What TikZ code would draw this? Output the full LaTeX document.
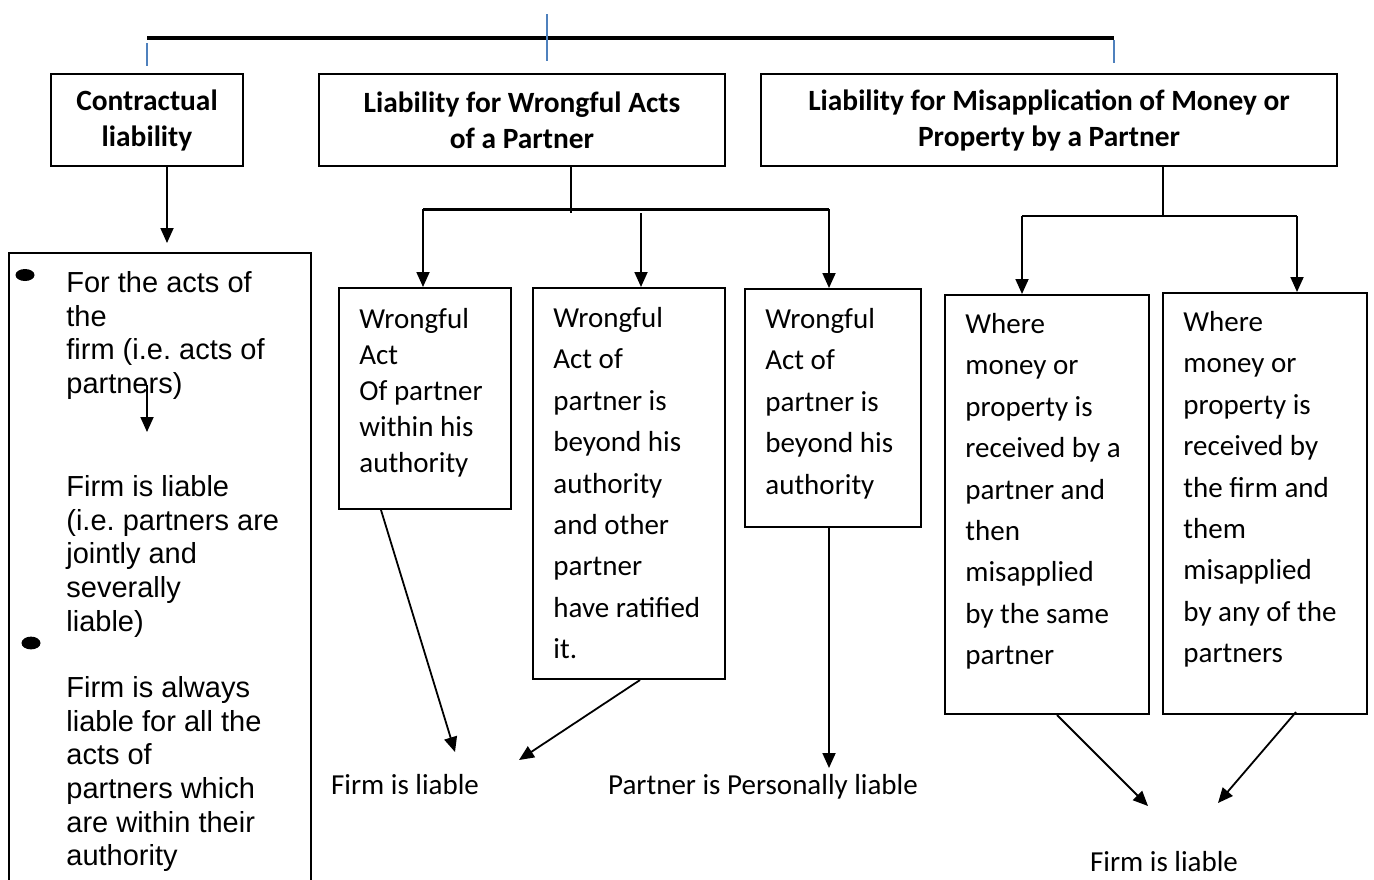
\documentclass[tikz,border=0pt]{standalone}
\usepackage{fontspec}
\setmainfont{Carlito}
\newfontfamily\arialfont{Liberation Sans}
\usetikzlibrary{arrows.meta,positioning}
\definecolor{tickblue}{RGB}{79,129,189}
\frenchspacing

\begin{document}
\begin{tikzpicture}[x=0.5pt,y=-0.5pt,
    hdr/.style={draw, line width=1pt, align=center, inner sep=0pt, minimum height=46pt,
        font=\fontsize{14.7}{18}\selectfont\bfseries},
    box/.style={draw, line width=1pt, inner sep=0pt},
    wtxt/.style={anchor=north west, align=left, inner sep=0pt, font=\fontsize{14.5}{20.7}\selectfont},
    ltxt/.style={anchor=north west, align=left, inner sep=0pt, font=\arialfont\fontsize{14.5}{16.85}\selectfont},
    lbl/.style={inner sep=0pt, anchor=base, font=\fontsize{14.5}{17}\selectfont},
    arr/.style={line width=0.9pt, -{Triangle[length=7.5pt,width=6.5pt]}},
    ln/.style={line width=0.9pt}
]
    \useasboundingbox (0,0) rectangle (1374,879);
    \clip (0,0) rectangle (1374,879);

    % top bar
    \draw[line width=2pt] (147,38) -- (1114,38);
    \draw[tickblue, line width=1.3pt] (147,43) -- (147,66) (547,14) -- (547,61) (1114,40) -- (1114,63);

    % headings
    \node[hdr, minimum width=96pt] (contr) at (147,120) {Contractual\\liability};
    \node[hdr, minimum width=203pt] (wrong) at (522,120) {Liability for Wrongful Acts\\of a Partner};
    \node[hdr, minimum width=288pt] (misap) at (1049,120) {Liability for Misapplication of Money or\\Property by a Partner};

    % contractual liability
    \node[box, minimum width=151pt, minimum height=323.5pt] (lbox) at (160,576.5) {};
    \fill (25,275) ellipse [x radius=4.75pt, y radius=3pt];
    \fill (31,643) ellipse [x radius=4.75pt, y radius=3.2pt];
    \node[ltxt, below right=9.5pt and 29pt of lbox.north west] (la) {For the acts of\\the\\firm (i.e. acts of\\partners)};
    \node[ltxt, below right=111.5pt and 29pt of lbox.north west] (lb) {Firm is liable\\(i.e. partners are\\jointly and\\severally\\liable)};
    \node[ltxt, below right=212pt and 29pt of lbox.north west] (lc) {Firm is always\\liable for all the\\acts of\\partners which\\are within their\\authority};
    \draw[arr] ([xshift=10pt]contr.south) -- ([xshift=10pt,yshift=4.5pt]contr.south |- lbox.north);
    \coordinate (la1) at (147,385);
    \coordinate (la2) at (147,432);
    \draw[arr] (la1) -- (la2);

    % wrongful acts
    \node[box, minimum width=86pt, minimum height=110.5pt] (w1) at (425,398.5) {};
    \node[box, minimum width=96pt, minimum height=195.5pt] (w2) at (629,483.5) {};
    \node[box, minimum width=88pt, minimum height=119pt] (w3) at (833,408) {};
    \node[wtxt, font=\fontsize{14.5}{18}\selectfont, below right=10.5pt and 10.5pt of w1.north west] (t1) {Wrongful\\Act\\Of partner\\within his\\authority};
    \node[wtxt, below right=10pt and 10.5pt of w2.north west] (t2) {Wrongful\\Act of\\partner is\\beyond his\\authority\\and other\\partner\\have ratified\\it.};
    \node[wtxt, below right=10pt and 10.5pt of w3.north west] (t3) {Wrongful\\Act of\\partner is\\beyond his\\authority};

    \coordinate (wj) at (571,209);
    \coordinate (bl) at (423,209);
    \coordinate (bm) at (641,213);
    \coordinate (br) at (829,209);
    \draw[ln] ([xshift=24.5pt]wrong.south) -- ([yshift=-2pt]wj);
    \draw[line width=1.5pt] (bl) -- (br);
    \draw[arr] (bl) -- (bl |- w1.north);
    \draw[arr] (bm) -- (bm |- w2.north);
    \draw[arr] (br) -- (br |- w3.north);

    \node[lbl] (fl1) at (405,794) {Firm is liable};
    \node[lbl] (ppl) at (763,794) {Partner is Personally liable};
    \coordinate (f1) at (455,752);
    \coordinate (f2) at (519,760);
    \coordinate (p1) at (829,768);
    \draw[arr] ([xshift=-22pt]w1.south) -- (f1);
    \draw[arr] ([xshift=5.5pt]w2.south) -- (f2);
    \draw[arr] ([xshift=-2pt]w3.south) -- (p1);

    % misapplication
    \node[box, minimum width=102pt, minimum height=209.5pt] (m1) at (1047,504.5) {};
    \node[box, minimum width=102pt, minimum height=210.5pt] (m2) at (1265,503.5) {};
    \node[wtxt, below right=9.5pt and 10.5pt of m1.north west] (t4) {Where\\money or\\property is\\received by a\\partner and\\then\\misapplied\\by the same\\partner};
    \node[wtxt, below right=9.5pt and 10.5pt of m2.north west] (t5) {Where\\money or\\property is\\received by\\the firm and\\them\\misapplied\\by any of the\\partners};

    \coordinate (mj) at (1163,216);
    \coordinate (ml) at (1022,216);
    \coordinate (mr) at (1297,216);
    \draw[ln] (misap.south -| mj) -- (mj);
    \draw[ln] (ml) -- (mr);
    \draw[arr] (ml) -- (ml |- m1.north);
    \draw[arr] (mr) -- (mr |- m2.north);

    \node[lbl] (fl2) at (1164,871) {Firm is liable};
    \coordinate (f3) at (1148,806);
    \coordinate (f4) at (1218,803);
    \draw[arr] ([xshift=5pt]m1.south) -- (f3);
    \draw[arr] ([xshift=15.5pt,yshift=1.5pt]m2.south) -- (f4);
\end{tikzpicture}
\end{document}
